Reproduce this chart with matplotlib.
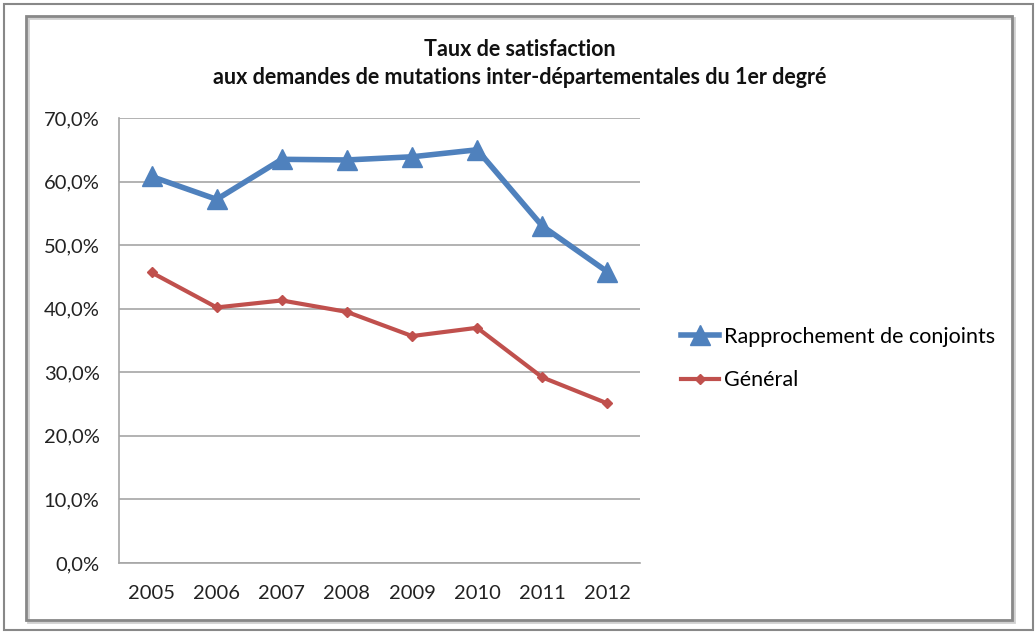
import matplotlib
matplotlib.use("Agg")
import matplotlib.pyplot as plt
from matplotlib.patches import Rectangle
from matplotlib.ticker import FuncFormatter

years = ["2005", "2006", "2007", "2008", "2009", "2010", "2011", "2012"]
rapprochement = [60.8, 57.2, 63.5, 63.4, 63.9, 65.0, 53.0, 45.8]
general = [45.7, 40.2, 41.3, 39.5, 35.7, 37.0, 29.2, 25.1]
yticks = [0, 10, 20, 30, 40, 50, 60, 70]

plt.rcParams['font.family'] = ['Lato', 'DejaVu Sans']

W, H = 1036, 632
fig = plt.figure(figsize=(W / 100, H / 100), dpi=100)
fig.patch.set_facecolor("white")

# outer and inner frames
fig.add_artist(Rectangle((4 / W, 1 - 630 / H), 1029 / W, 626 / H, transform=fig.transFigure,
                         fill=False, edgecolor="#888888", linewidth=1.5))
fig.add_artist(Rectangle((28 / W, 1 - 622 / H), 986 / W, 604 / H, transform=fig.transFigure,
                         fill=False, edgecolor="#D0D0D0", linewidth=2.0))
fig.add_artist(Rectangle((26 / W, 1 - 620 / H), 986 / W, 604 / H, transform=fig.transFigure,
                         fill=False, edgecolor="#888888", linewidth=2.0))

left, right, top, bottom = 119, 640, 118, 563
ax = fig.add_axes([left / W, 1 - bottom / H, (right - left) / W, (bottom - top) / H])

x = list(range(len(years)))
ax.plot(x, rapprochement, color="#4F81BD", linewidth=4, marker="^", markersize=15,
        label="Rapprochement de conjoints", solid_joinstyle="round")
ax.plot(x, general, color="#C0504D", linewidth=3, marker="D", markersize=5.5,
        label="Général", solid_joinstyle="round")

ax.set_xlim(-0.5, len(years) - 0.5)
ax.set_ylim(0, 70)
ax.set_yticks(yticks)
ax.yaxis.set_major_formatter(FuncFormatter(lambda v, p: f"{v:.1f}%".replace(".", ",")))
ax.set_xticks(x)
ax.set_xticklabels(years)
ax.tick_params(axis="both", length=0, labelsize=14.5, colors="#222222")
ax.tick_params(axis="y", pad=14)
ax.tick_params(axis="x", pad=16)
ax.grid(axis="y", color="#A6A6A6", linewidth=1.2)
ax.set_axisbelow(True)
for s in ["top", "right"]:
    ax.spines[s].set_visible(False)
ax.spines["left"].set_color("#A6A6A6")
ax.spines["bottom"].set_color("#A6A6A6")
ax.spines["left"].set_linewidth(1.2)
ax.spines["bottom"].set_linewidth(1.2)

fig.text(520 / W, 1 - 50 / H, "Taux de satisfaction", ha="center", va="center",
         fontsize=15.5, fontweight="bold", color="#111111")
fig.text(520 / W, 1 - 78 / H, "aux demandes de mutations inter-départementales du 1er degré",
         ha="center", va="center", fontsize=15.5, fontweight="bold", color="#111111")

leg = fig.legend(loc="upper left", bbox_to_anchor=(672 / W, 1 - 318 / H), frameon=False,
                 fontsize=15.5, handlelength=1.8, handletextpad=0.2, labelspacing=1.1,
                 borderaxespad=0)

fig.savefig("out.png", dpi=100, facecolor="white")
